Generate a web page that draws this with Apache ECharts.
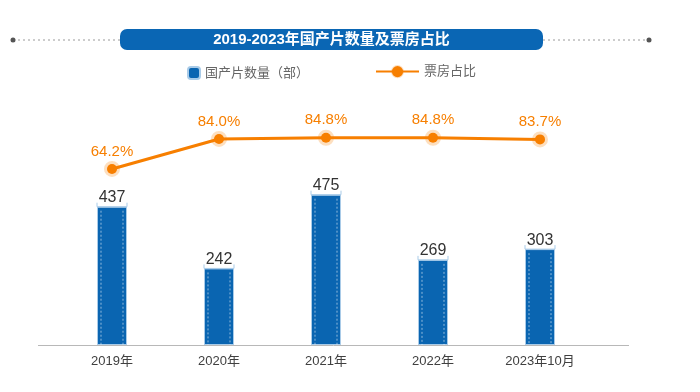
<!DOCTYPE html>
<html><head><meta charset="utf-8">
<script src="https://cdn.jsdelivr.net/npm/echarts@6/dist/echarts.min.js"></script>
<style>html,body{margin:0;padding:0;background:#fff}#c{width:700px;height:392px}</style>
</head><body><div id="c"></div>
<script>
const categories = ['2019年', '2020年', '2021年', '2022年', '2023年10月'];
const filmCounts = [437, 242, 475, 269, 303];
const boxShares = [64.2, 84.0, 84.8, 84.8, 83.7];
const titleText = '2019-2023年国产片数量及票房占比';
const barName = '国产片数量（部）';
const lineName = '票房占比';

const FONT = '"Liberation Sans","Noto Sans CJK SC",sans-serif';
const BLUE = '#0a65b1';
const ORANGE = '#f77f00';

const chart = echarts.init(document.getElementById('c'));
chart.setOption({
  animation: false,
  textStyle: { fontFamily: FONT },
  graphic: [
    { type: 'line', shape: { x1: 13, y1: 40, x2: 120, y2: 40 }, style: { stroke: '#9a9a9a', lineWidth: 1, lineDash: [2, 3] } },
    { type: 'line', shape: { x1: 543, y1: 40, x2: 649, y2: 40 }, style: { stroke: '#9a9a9a', lineWidth: 1, lineDash: [2, 3] } },
    { type: 'circle', shape: { cx: 13, cy: 40, r: 2.5 }, style: { fill: '#555' } },
    { type: 'circle', shape: { cx: 649, cy: 40, r: 2.5 }, style: { fill: '#555' } },
    { type: 'rect', shape: { x: 120, y: 29, width: 423, height: 21, r: 7 }, style: { fill: '#0a66b4' } },
    { type: 'text', x: 331.5, y: 40, style: { text: titleText, fill: '#fff', font: 'bold 15px ' + FONT, textAlign: 'center', textVerticalAlign: 'middle' } },
    { type: 'line', shape: { x1: 38, y1: 345.5, x2: 629, y2: 345.5 }, style: { stroke: '#b8b8b8', lineWidth: 1 } }
  ],
  legend: [
    { data: [barName], left: 187, top: 66, padding: 0, itemWidth: 12, itemHeight: 12, textStyle: { color: '#666', fontSize: 13, fontFamily: FONT } },
    { data: [lineName], left: 375, top: 65, padding: 0, itemWidth: 43, itemHeight: 14, textStyle: { color: '#666', fontSize: 13, fontFamily: FONT } }
  ],
  grid: { left: 58.5, right: 106.5, top: 95, bottom: 47 },
  xAxis: {
    type: 'category', data: categories,
    axisLine: { show: false }, axisTick: { show: false },
    axisLabel: { color: '#404040', fontSize: 13, margin: 10, fontFamily: FONT }
  },
  yAxis: [
    { type: 'value', min: 0, max: 790, show: false, splitLine: { show: false } },
    { type: 'value', min: -52, max: 113, show: false, splitLine: { show: false } }
  ],
  series: [
    {
      name: barName, type: 'bar', data: filmCounts, barWidth: 30,
      itemStyle: { color: BLUE, borderColor: '#a9cbe8', borderWidth: 1 },
      label: { show: true, position: 'top', distance: 1, color: '#333', fontSize: 16, fontFamily: FONT }
    },
    {
      type: 'custom', data: filmCounts.map((v, i) => [i, v]), silent: true, z: 3,
      renderItem: function (params, api) {
        const top = api.coord([api.value(0), api.value(1)]);
        const base = api.coord([api.value(0), 0]);
        const x = top[0];
        return {
          type: 'group', children: [
            { type: 'line', shape: { x1: x - 11, y1: top[1] + 4, x2: x - 11, y2: base[1] }, style: { stroke: 'rgba(255,255,255,0.55)', lineWidth: 1, lineDash: [2, 2] } },
            { type: 'line', shape: { x1: x + 11, y1: top[1] + 4, x2: x + 11, y2: base[1] }, style: { stroke: 'rgba(255,255,255,0.55)', lineWidth: 1, lineDash: [2, 2] } },
            { type: 'polyline', shape: { points: [[x - 15, top[1] - 4], [x - 15, top[1]], [x + 15, top[1]], [x + 15, top[1] - 4]] }, style: { stroke: '#a9cbe8', lineWidth: 1, fill: null } }
          ]
        };
      }
    },
    {
      name: lineName, type: 'line', yAxisIndex: 1, data: boxShares, z: 5,
      symbol: 'circle', symbolSize: 10,
      lineStyle: { color: ORANGE, width: 3 },
      itemStyle: { color: ORANGE, borderColor: 'rgba(247,127,0,0.25)', borderWidth: 6 },
      label: { show: true, position: 'top', distance: 2, color: ORANGE, fontSize: 15, fontFamily: FONT, formatter: p => p.value.toFixed(1) + '%' }
    }
  ]
});
</script></body></html>
